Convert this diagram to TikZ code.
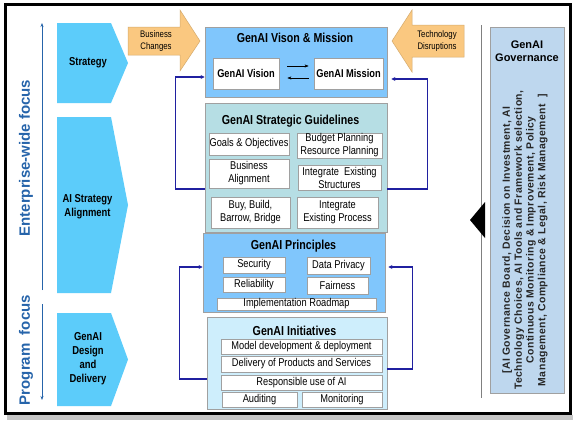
\documentclass[tikz,border=0pt]{standalone}
\usepackage{fontspec}
\setmainfont{Liberation Sans}
\newfontfamily\narrowfont[FakeStretch=0.82]{Liberation Sans}
\newfontfamily\govfont[LetterSpace=4.5]{Liberation Sans}
\usetikzlibrary{calc}
\usetikzlibrary{arrows.meta}
\definecolor{chevblue}{RGB}{92,204,250}
\definecolor{boxblue}{RGB}{128,198,252}
\definecolor{guideteal}{RGB}{182,222,228}
\definecolor{initblue}{RGB}{206,238,252}
\definecolor{govblue}{RGB}{190,215,238}
\definecolor{orangebox}{RGB}{250,200,128}
\definecolor{navyline}{RGB}{32,32,160}
\definecolor{focusblue}{RGB}{38,100,170}
\definecolor{edgegray}{RGB}{160,160,160}

\begin{document}
\begin{tikzpicture}[x=1pt, y=-1pt,
	panel/.style={draw=edgegray, line width=0.8pt},
	inbox/.style={draw=edgegray, fill=white, line width=0.8pt, inner sep=0pt, align=center, font=\narrowfont\fontsize{11.3}{13}\selectfont},
	paneltitle/.style={font=\narrowfont\bfseries\fontsize{13}{15}\selectfont},
	sidelbl/.style={align=center, font=\narrowfont\bfseries\fontsize{11.5}{14}\selectfont},
	tinylbl/.style={align=center, font=\narrowfont\fontsize{9.5}{12}\selectfont},
	orangearrow/.style={fill=orangebox, draw=orangebox!85!black, line width=0.5pt},
	flow/.style={draw=navyline, line width=1.2pt, -{Stealth[length=4pt,width=4pt]}},
	focusarrow/.style={draw=focusblue, line width=0.8pt, -{Stealth[length=4pt,width=3pt]}},
	focustxt/.style={rotate=90, text=focusblue, font=\bfseries\fontsize{15}{18}\selectfont}]
		\fill[white] (0,0) rectangle (576,424);
		\useasboundingbox (0,0) rectangle (576,424);
		\foreach \ytop/\ybot in {23/103, 117/293, 313/406} {
			\fill[chevblue] (57,\ytop) -- (111,\ytop) -- (128,{(\ytop+\ybot)/2}) -- (111,\ybot) -- (57,\ybot) -- cycle;
		}
		\node[sidelbl] (strat) at (88,63) {Strategy};
		\node[sidelbl] (aialign) at (87.5,207) {AI Strategy\\Alignment};
		\node[sidelbl] (design) at (88,359) {GenAI\\Design\\and\\Delivery};
		\coordinate (eftop) at (42,23);
		\coordinate (efbot) at (42,290);
		\coordinate (pftop) at (42,304);
		\coordinate (pfbot) at (42,400);
		\draw[focusarrow] (efbot) -- (eftop);
		\draw[focusarrow] (pftop) -- (pfbot);
		\node[focustxt] (entfocus) at (26,158) {Enterprise-wide focus};
		\node[focustxt] (progfocus) at (26,350) {Program\ \ focus};
		\filldraw[orangearrow] (128,27) -- (180,27) -- (180,10) -- (200,41) -- (180,71) -- (180,55) -- (128,55) -- cycle;
		\node[tinylbl] (buschange) at (156,41) {Business\\Changes};
		\filldraw[orangearrow] (464,25) -- (412,25) -- (412,10) -- (392,41) -- (412,72) -- (412,57) -- (464,57) -- cycle;
		\node[tinylbl] (techdis) at (437,41) {Technology\\Disruptions};
		\node[panel, fill=boxblue, minimum width=182, minimum height=70] (vm) at (296,62) {};
		\node[paneltitle] (vmtitle) at (295,38) {GenAI Vison \& Mission};
		\node[inbox, font=\narrowfont\bfseries\fontsize{11.3}{13}\selectfont, minimum width=66, minimum height=31] (vision) at (246,73.5) {GenAI Vision};
		\node[inbox, font=\narrowfont\bfseries\fontsize{11.3}{13}\selectfont, minimum width=69, minimum height=31] (mission) at (348.5,73.5) {GenAI Mission};
		\draw[-{Stealth[length=4pt,width=3pt]}] ([xshift=8pt,yshift=7.5pt]vision.east) -- ([xshift=-5pt,yshift=7.5pt]mission.west);
		\draw[-{Stealth[length=4pt,width=3pt]}] ([xshift=-5pt,yshift=-4.5pt]mission.west) -- ([xshift=8pt,yshift=-4.5pt]vision.east);
		\node[panel, fill=guideteal, minimum width=182, minimum height=129] (guide) at (296,167.5) {};
		\node[paneltitle] (guidetitle) at (290.5,121) {GenAI Strategic Guidelines};
		\node[inbox, minimum width=80, minimum height=22] (goals) at (249,144) {Goals \& Objectives};
		\node[inbox, minimum width=85, minimum height=25] (budget) at (339.5,145.5) {Budget Planning\\Resource Planning};
		\node[inbox, minimum width=80, minimum height=29] (busalign) at (249,173.5) {Business\\Alignment};
		\node[inbox, minimum width=83, minimum height=25] (structs) at (339.5,177.5) {Integrate\ \ Existing\\Structures};
		\node[inbox, minimum width=79, minimum height=31] (buybuild) at (250.5,212.5) {Buy, Build,\\Barrow, Bridge};
		\node[inbox, minimum width=81, minimum height=31] (process) at (337.5,212.5) {Integrate\\Existing Process};
		\node[panel, fill=boxblue, minimum width=182, minimum height=79] (princ) at (294,272.5) {};
		\node[paneltitle] (princtitle) at (293.5,246) {GenAI Principles};
		\node[inbox, minimum width=62, minimum height=16] (security) at (254,265) {Security};
		\node[inbox, minimum width=63, minimum height=17] (privacy) at (338.5,265.5) {Data Privacy};
		\node[inbox, minimum width=62, minimum height=15] (reliab) at (254,284.5) {Reliability};
		\node[inbox, minimum width=61, minimum height=17] (fair) at (337.5,285.5) {Fairness};
		\node[inbox, minimum width=159, minimum height=12] (roadmap) at (296.5,304) {Implementation Roadmap};
		\node[panel, fill=initblue, minimum width=180, minimum height=92] (init) at (297,363) {};
		\node[paneltitle] (inittitle) at (294.5,331) {GenAI Initiatives};
		\node[inbox, minimum width=161, minimum height=15] (model) at (301.5,346.5) {Model development \& deployment};
		\node[inbox, minimum width=161, minimum height=16] (delivery) at (301.5,364) {Delivery of Products and Services};
		\node[inbox, minimum width=161, minimum height=15] (respai) at (301.5,382.5) {Responsible use of AI};
		\node[inbox, minimum width=75, minimum height=15] (audit) at (259.5,399.5) {Auditing};
		\node[inbox, minimum width=80, minimum height=15] (monitor) at (342,399.5) {Monitoring};
		\draw[flow] ([yshift=-21.5pt]guide.west) -- ++(-29,0) |- ([yshift=-15pt]vm.west);
		\draw[flow] ([yshift=-21.5pt]guide.east) -- ++(40,0) |- ([xshift=4pt,yshift=-17pt]vm.east);
		\draw[flow] ([yshift=-16pt]init.west) -- ++(-27,0) |- ([yshift=5.5pt]princ.west);
		\draw[flow] ([yshift=-6pt]init.east) -- ++(25,0) |- ([xshift=3pt,yshift=5.5pt]princ.east);
		\draw[gray, line width=1pt] (481,25) -- (481,398);
		\fill[black] (470,220) -- (485,202) -- (485,238) -- cycle;
		\node[panel, fill=govblue, minimum width=74, minimum height=366] (gov) at (527,210) {};
		\node[align=center, font=\bfseries\fontsize{11}{13}\selectfont] (govtitle) at (527,51) {GenAI\\Governance};
		\node[rotate=90, align=center, text=black!85, font=\govfont\bfseries\fontsize{10.4}{11.8}\selectfont] (govtext) at (525,240) {[AI Governance Board, Decision on Investment, AI\\Technology Choices, AI Tools and Framework selection,\\Continuous Monitoring \& Improvement, Policy\\Management, Compliance \& Legal, Risk Management\ \ ]};
		\fill[gray!45] (7,415) rectangle (573,420);
		\draw[line width=3pt] (5.5,4.5) rectangle (570.5,413.5);
\end{tikzpicture}
\end{document}
